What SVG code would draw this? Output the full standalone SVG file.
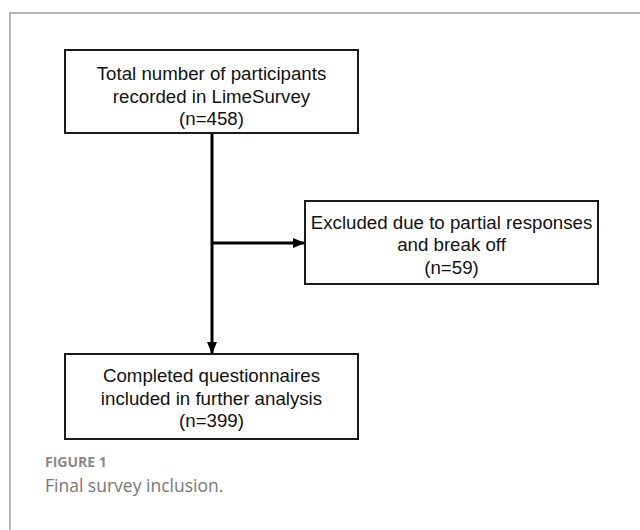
<svg xmlns="http://www.w3.org/2000/svg" width="640" height="530" viewBox="0 0 640 530">
<style>
.box{fill:#fff;stroke:#1a1a1a;stroke-width:2}
.t{font-family:"Liberation Sans",Arial,sans-serif;font-size:18.7px;fill:#111;text-anchor:middle}
.conn{stroke:#000;stroke-width:3;fill:none}
.cap1{font-family:"Open Sans",sans-serif;font-size:14px;font-weight:bold;fill:#8a8a8a}
.cap2{font-family:"Open Sans",sans-serif;font-size:17.5px;fill:#777}
</style>
<defs>
<marker id="ah" markerWidth="12" markerHeight="12" refX="11" refY="6" orient="auto" markerUnits="userSpaceOnUse">
<path d="M0,1 L12,6 L0,11 Z" fill="#000"/>
</marker>
</defs>
<path d="M10,530 V13 H640" fill="none" stroke="#a0a0a0" stroke-width="1.5"/>
<g id="connectors">
<line class="conn" x1="212" y1="134" x2="212" y2="353" marker-end="url(#ah)"/>
<line class="conn" x1="212" y1="243" x2="304" y2="243" marker-end="url(#ah)"/>
</g>
<g id="n1">
<rect class="box" x="65" y="50" width="293" height="83"/>
<text class="t" x="211.5" y="79.5">Total number of participants</text>
<text class="t" x="211.5" y="102.5">recorded in LimeSurvey</text>
<text class="t" x="211.5" y="125">(n=458)</text>
</g>
<g id="n2">
<rect class="box" x="305" y="201" width="293" height="83"/>
<text class="t" x="451.5" y="228.5">Excluded due to partial responses</text>
<text class="t" x="451.5" y="251">and break off</text>
<text class="t" x="451.5" y="273.5">(n=59)</text>
</g>
<g id="n3">
<rect class="box" x="65" y="354" width="293" height="85"/>
<text class="t" x="211.5" y="381.5">Completed questionnaires</text>
<text class="t" x="211.5" y="404.5">included in further analysis</text>
<text class="t" x="211.5" y="427">(n=399)</text>
</g>
<text class="cap1" x="45" y="467">FIGURE 1</text>
<text class="cap2" x="45" y="492">Final survey inclusion.</text>
</svg>
